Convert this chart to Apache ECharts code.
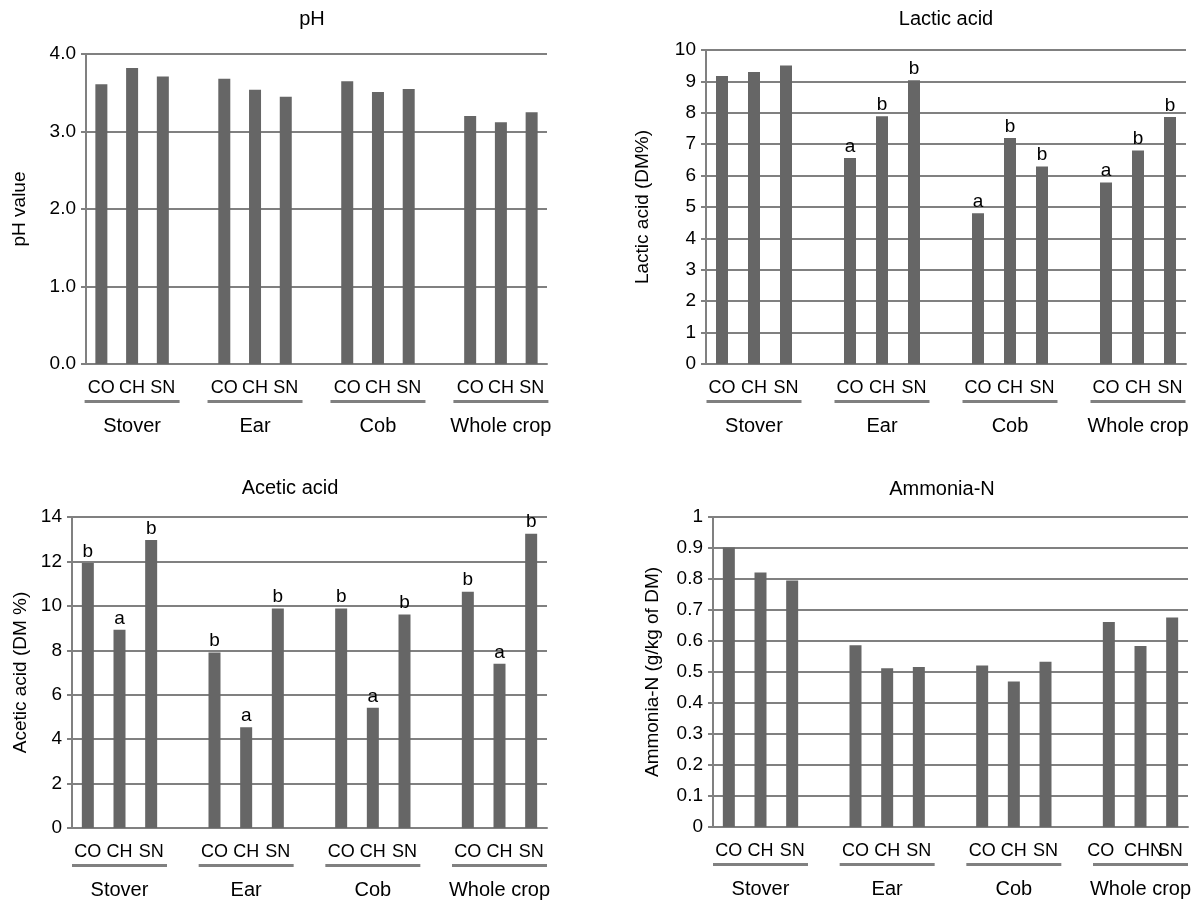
<!DOCTYPE html>
<html>
<head>
<meta charset="utf-8">
<title>Silage fermentation</title>
<script src="https://cdn.jsdelivr.net/npm/echarts@6/dist/echarts.min.js"></script>
<style>
  html, body { margin: 0; padding: 0; background: #fff; }
  #main { width: 1203px; height: 901px; }
</style>
</head>
<body>
<div id="main"></div>
<script>
  var treatments = ['CO', 'CH', 'SN'];
  var materials = ['Stover', 'Ear', 'Cob', 'Whole crop'];

  // values, order: Stover, Ear, Cob, Whole crop (CO, CH, SN each)
  var phValue = [3.61, 3.82, 3.71, 3.68, 3.54, 3.45, 3.65, 3.51, 3.55, 3.20, 3.12, 3.25];
  var lacticAcid = [9.17, 9.30, 9.51, 6.56, 7.89, 9.04, 4.80, 7.20, 6.29, 5.78, 6.80, 7.87];
  var lacticLetters = ['', '', '', 'a', 'b', 'b', 'a', 'b', 'b', 'a', 'b', 'b'];
  var aceticAcid = [11.93, 8.92, 12.97, 7.90, 4.53, 9.88, 9.88, 5.41, 9.61, 10.64, 7.39, 13.25];
  var aceticLetters = ['b', 'a', 'b', 'b', 'a', 'b', 'b', 'a', 'b', 'b', 'a', 'b'];
  var ammoniaN = [0.902, 0.821, 0.795, 0.586, 0.512, 0.516, 0.521, 0.469, 0.533, 0.661, 0.584, 0.676];
  // the ammonia panel prints its last group as "CO CHNSN" (labels overlap)
  var ammoniaLastLabels = ['CO', 'CHN', 'SN'];

  var FONT = '"Liberation Sans", Arial, Helvetica, sans-serif';
  var GREY = '#808080';
  var BAR = '#666666';

  // put an empty slot between the material groups
  function spread(arr, fill) {
    var out = [];
    materials.forEach(function (m, g) {
      if (g > 0) out.push(fill);
      for (var t = 0; t < treatments.length; t++) out.push(arr[g * treatments.length + t]);
    });
    return out;
  }

  var cats = [], groupCats = [];
  materials.forEach(function (m, g) {
    if (g > 0) { cats.push(''); groupCats.push(''); }
    treatments.forEach(function (t, i) {
      cats.push(t);
      groupCats.push(i === 1 ? m : '');
    });
  });

  var plainLabel = function (v) { return v; };
  // shift the last three labels like in the source figure
  var ammoniaLabel = function (v, idx) {
    var k = idx - (cats.length - 3);
    if (k < 0) return v;
    return '{s' + k + '|' + ammoniaLastLabels[k] + '}';
  };
  var shiftRich = {
    s0: { fontSize: 18, padding: [0, 16, 0, 0] },
    s1: { fontSize: 18, padding: [0, 0, 0, 6] },
    s2: { fontSize: 18, padding: [0, 4, 0, 0] }
  };

  var panels = [
    { title: 'pH', titleX: 312, titleY: 20, yName: 'pH value', nameGap: 57,
      grid: { left: 86, right: 656, top: 54, bottom: 537 },
      max: 4, interval: 1, fmt: function (v) { return v.toFixed(1); },
      values: phValue, letters: null, xLabel: plainLabel },
    { title: 'Lactic acid', titleX: 946, titleY: 20, yName: 'Lactic acid (DM%)', nameGap: 54,
      grid: { left: 706, right: 17, top: 50, bottom: 537 },
      max: 10, interval: 1, fmt: null,
      values: lacticAcid, letters: lacticLetters, xLabel: plainLabel },
    { title: 'Acetic acid', titleX: 290, titleY: 489, yName: 'Acetic acid (DM %)', nameGap: 42,
      grid: { left: 72, right: 656, top: 517, bottom: 73 },
      max: 14, interval: 2, fmt: null,
      values: aceticAcid, letters: aceticLetters, xLabel: plainLabel },
    { title: 'Ammonia-N', titleX: 942, titleY: 490, yName: 'Ammonia-N (g/kg of DM)', nameGap: 51,
      grid: { left: 713, right: 15, top: 517, bottom: 74 },
      max: 1, interval: 0.1, fmt: null,
      values: ammoniaN, letters: null, xLabel: ammoniaLabel }
  ];

  var option = {
    animation: false,
    backgroundColor: '#fff',
    textStyle: { fontFamily: FONT, color: '#000' },
    title: [], grid: [], xAxis: [], yAxis: [], series: []
  };

  panels.forEach(function (p, i) {
    option.title.push({
      text: p.title, left: p.titleX, top: p.titleY - 11, textAlign: 'center', padding: 0,
      textStyle: { fontFamily: FONT, fontSize: 20, fontWeight: 'normal', color: '#000' }
    });
    option.grid.push(Object.assign({ outerBoundsMode: 'none', containLabel: false }, p.grid));

    option.xAxis.push({
      type: 'category', gridIndex: i, position: 'bottom', data: cats,
      axisLine: { lineStyle: { color: GREY, width: 2 } },
      axisTick: { length: 6, lineStyle: { color: GREY, width: 2 } },
      axisLabel: {
        interval: 0, margin: 15, fontSize: 18, lineHeight: 18, color: '#000', fontFamily: FONT,
        formatter: p.xLabel, rich: shiftRich
      },
      splitLine: { show: false }
    });
    option.xAxis.push({
      type: 'category', gridIndex: i, position: 'bottom', data: groupCats,
      axisLine: { show: false }, axisTick: { show: false }, splitLine: { show: false },
      axisLabel: {
        interval: 0, margin: 36, color: '#000', fontFamily: FONT,
        formatter: function (v) { return v ? '{u|}\n{g|' + v + '}' : ''; },
        rich: {
          u: { width: 95, height: 3, lineHeight: 3, backgroundColor: GREY },
          g: { fontSize: 20, lineHeight: 46, color: '#000', fontFamily: FONT }
        }
      }
    });

    option.yAxis.push({
      type: 'value', gridIndex: i, min: 0, max: p.max, interval: p.interval,
      name: p.yName, nameLocation: 'middle', nameGap: p.nameGap,
      nameTextStyle: { fontSize: 19, color: '#000', fontFamily: FONT },
      axisLine: { show: true, lineStyle: { color: GREY, width: 2 } },
      axisTick: { show: true, length: 5, lineStyle: { color: GREY, width: 2 } },
      splitLine: { show: true, lineStyle: { color: GREY, width: 2 } },
      axisLabel: {
        margin: 10, fontSize: 19, color: '#000', fontFamily: FONT,
        formatter: p.fmt || function (v) { return String(Math.round(v * 10) / 10); }
      }
    });

    var letters = p.letters ? spread(p.letters, '') : null;
    option.series.push({
      type: 'bar', xAxisIndex: i * 2, yAxisIndex: i,
      data: spread(p.values, null),
      barWidth: 12,
      itemStyle: { color: BAR },
      silent: true,
      label: letters ? {
        show: true, position: 'top', distance: 2, fontSize: 19, color: '#000', fontFamily: FONT,
        formatter: function (d) { return letters[d.dataIndex] || ''; }
      } : { show: false }
    });
  });

  var chart = echarts.init(document.getElementById('main'), null, { renderer: 'canvas' });
  chart.setOption(option);
  window.addEventListener('resize', function () { chart.resize(); });
</script>
</body>
</html>
